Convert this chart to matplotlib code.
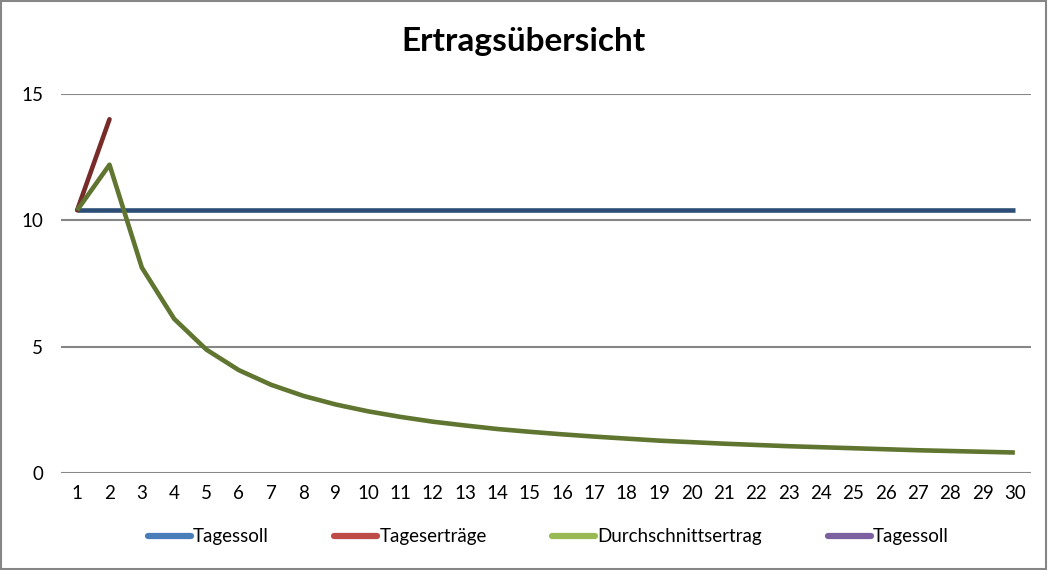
import numpy as np
import matplotlib
matplotlib.use("Agg")
from matplotlib import pyplot as plt
from matplotlib.lines import Line2D
from matplotlib.patches import Rectangle

days = list(range(1, 31))
tagessoll = [10.4] * 30
tagesertraege = [10.4, 14.0] + [np.nan] * 28
durchschnitt = [10.4, 12.2, 8.13, 6.1, 4.88, 4.07, 3.49, 3.05, 2.71, 2.44,
                2.22, 2.03, 1.88, 1.74, 1.63, 1.53, 1.44, 1.36, 1.28, 1.22,
                1.16, 1.11, 1.06, 1.02, 0.98, 0.94, 0.90, 0.87, 0.84, 0.81]
tagessoll2 = [np.nan] * 30
labels = ["Tagessoll", "Tageserträge", "Durchschnittsertrag", "Tagessoll"]
yticks = [0, 5, 10, 15]

plt.rcParams['font.family'] = ['Lato', 'DejaVu Sans']

fig = plt.figure(figsize=(10.48, 5.70), dpi=100)
ax = fig.add_axes([0.0582, 0.1702, 0.9256, 0.6649])

ax.plot(days, tagessoll, color='#2C4D75', lw=3.3, solid_capstyle='butt', zorder=3)
ax.plot(days, tagesertraege, color='#772C2A', lw=3.3, solid_capstyle='round', zorder=4)
ax.plot(days, durchschnitt, color='#5F7530', lw=3.3, solid_capstyle='butt',
        solid_joinstyle='round', zorder=5)
ax.plot(days, tagessoll2, color='#7D60A0', lw=3.3, zorder=6)

ax.set_xlim(0.5, 30.5)
ax.set_ylim(0, 15)
ax.set_yticks(yticks)
ax.set_xticks(days)
ax.tick_params(length=0, labelsize=13.5, colors='black')
ax.tick_params(axis='y', pad=13)
ax.tick_params(axis='x', pad=9)
ax.grid(axis='y', color='#868686', lw=1.5)
ax.set_axisbelow(True)
for s in ax.spines.values():
    s.set_visible(False)

fig.text(0.5, 0.928, "Ertragsübersicht", ha='center', va='center',
         fontsize=24, fontweight='bold')

handles = [Line2D([], [], color=c, lw=4.5, solid_capstyle='round')
           for c in ['#4A7EBB', '#BE4B48', '#98B954', '#7D60A0']]
fig.legend(handles, labels, loc='center', bbox_to_anchor=(0.523, 0.058),
           ncol=4, frameon=False, fontsize=13.5, handlelength=2.3,
           handletextpad=0.1, columnspacing=3.5)

fig.add_artist(Rectangle((0.001, 0.002), 0.997, 0.996, transform=fig.transFigure,
                         fill=False, edgecolor='#868686', lw=1.5))

fig.savefig("out.png", dpi=100)
